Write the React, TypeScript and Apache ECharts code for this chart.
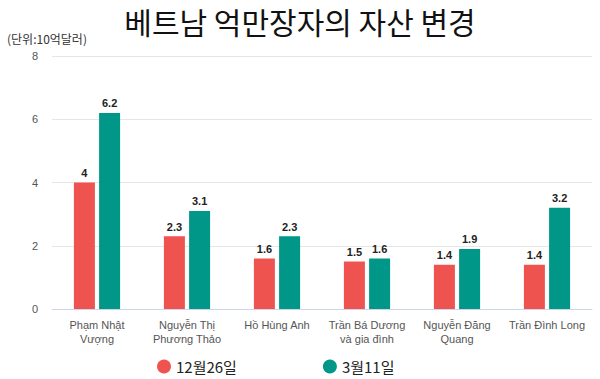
import React, { useEffect, useRef } from "react";
import * as echarts from "echarts";

const categories = [
  "Phạm Nhật\nVượng",
  "Nguyễn Thị\nPhương Thảo",
  "Hồ Hùng Anh",
  "Trần Bá Dương\nvà gia đình",
  "Nguyễn Đăng\nQuang",
  "Trần Đình Long",
];
const dec26 = [4, 2.3, 1.6, 1.5, 1.4, 1.4];
const mar11 = [6.2, 3.1, 2.3, 1.6, 1.9, 3.2];
const seriesNames = ["12월26일", "3월11일"];

export default function App() {
  const ref = useRef<HTMLDivElement>(null);
  useEffect(() => {
    const chart = echarts.init(ref.current!, null, { renderer: "svg" });
    const labelStyle = {
      show: true,
      position: "top" as const,
      fontSize: 11,
      fontWeight: "bold" as const,
      color: "#222",
      fontFamily: "Liberation Sans, Arial, sans-serif",
      distance: 4,
    };
    chart.setOption({
      animation: false,
      backgroundColor: "#fff",
      title: [
        {
          text: "베트남 억만장자의 자산 변경",
          left: "center",
          top: 1,
          textStyle: {
            fontFamily: "Noto Sans CJK KR",
            fontSize: 30,
            fontWeight: "normal",
            color: "#111",
          },
        },
        {
          text: "(단위:10억달러)",
          left: 2,
          top: 27,
          textStyle: {
            fontFamily: "Noto Sans CJK KR",
            fontSize: 12,
            fontWeight: "normal",
            color: "#333",
          },
        },
      ],
      legend: {
        data: seriesNames,
        left: 152,
        top: 354,
        icon: "circle",
        itemWidth: 14,
        itemHeight: 14,
        itemGap: 86,
        textStyle: {
          fontFamily: "Noto Sans CJK KR",
          fontSize: 15,
          color: "#222",
        },
      },
      grid: { left: 52, right: 8, top: 56, bottom: 70 },
      xAxis: {
        type: "category",
        data: categories,
        axisTick: { show: false },
        axisLine: { lineStyle: { color: "#ccd6eb" } },
        axisLabel: {
          interval: 0,
          color: "#555",
          fontSize: 11,
          lineHeight: 14,
          margin: 9,
          fontFamily: "Liberation Sans, Arial, sans-serif",
        },
      },
      yAxis: {
        type: "value",
        min: 0,
        max: 8,
        interval: 2,
        axisLabel: {
          color: "#555",
          fontSize: 11,
          margin: 14,
          fontFamily: "Liberation Sans, Arial, sans-serif",
        },
        splitLine: { lineStyle: { color: "#e6e6e6" } },
      },
      series: [
        {
          name: seriesNames[0],
          type: "bar",
          data: dec26,
          barWidth: 21,
          barGap: "20%",
          itemStyle: { color: "#ef5350" },
          label: labelStyle,
        },
        {
          name: seriesNames[1],
          type: "bar",
          data: mar11,
          barWidth: 21,
          itemStyle: { color: "#009688" },
          label: labelStyle,
        },
      ],
    });
    return () => chart.dispose();
  }, []);
  return <div ref={ref} style={{ width: 600, height: 379, position: "absolute", left: 0, top: 0 }} />;
}
